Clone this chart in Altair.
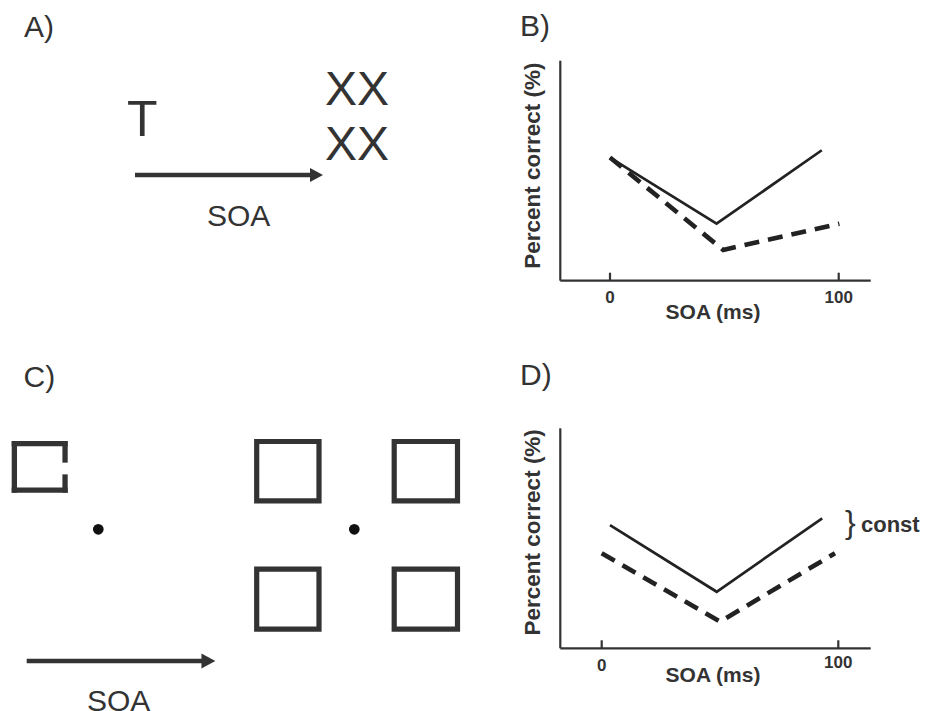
import altair as alt
import pandas as pd

# ---------------- data ----------------
soa_ticks = [0, 100]
soa_tick_labels = ["0", "100"]

B_solid_soa = [0, 46.6, 92.6]
B_solid_pc = [55.9, 25.9, 59.3]
B_dash_soa = [0, 49.5, 100.3]
B_dash_pc = [56.0, 14.0, 25.9]

D_solid_soa = [3.5, 48.6, 93.2]
D_solid_pc = [56.0, 25.7, 59.1]
D_dash_soa = [0, 50.0, 98.6]
D_dash_pc = [43.2, 12.1, 43.2]

x_title = "SOA (ms)"
y_title = "Percent correct (%)"
bracket_label = "const"

# ---------------- layout (page pixels) ----------------
W, H = 917, 712
X_DOM = [8, 8 + W]
Y_DOM = [8, 8 + H]
FONT = "Liberation Sans"
INK = "#333333"
LINE = "#222222"

panels = {
    "B": dict(x0=610.0, x100=838.7, y0=280.7, y100=60.7, left=560.3, right=870.7),
    "D": dict(x0=601.7, x100=838.3, y0=648.3, y100=428.3, left=560.3, right=870.7),
}

def kx(p):
    return (panels[p]["x100"] - panels[p]["x0"]) / 100.0

def ky(p):
    return (panels[p]["y0"] - panels[p]["y100"]) / 100.0

# series table in data units
rows = []
for panel, series, soas, pcs in [
    ("B", "solid", B_solid_soa, B_solid_pc),
    ("B", "dash", B_dash_soa, B_dash_pc),
    ("D", "solid", D_solid_soa, D_solid_pc),
    ("D", "dash", D_dash_soa, D_dash_pc),
]:
    for i, (s, p) in enumerate(zip(soas, pcs)):
        rows.append(dict(panel=panel, series=series, soa=s, pc=p, ord=i))
series_df = pd.DataFrame(rows)

px_expr = (f"datum.panel == 'B' ? {panels['B']['x0']} + datum.soa * {kx('B')} : "
           f"{panels['D']['x0']} + datum.soa * {kx('D')}")
py_expr = (f"datum.panel == 'B' ? {panels['B']['y0']} - datum.pc * {ky('B')} : "
           f"{panels['D']['y0']} - datum.pc * {ky('D')}")

xs = alt.Scale(domain=X_DOM, nice=False, zero=False)
ys = alt.Scale(domain=Y_DOM, nice=False, zero=False, reverse=True)

def X(f):
    return alt.X(f"{f}:Q", scale=xs, axis=None)

def Y(f):
    return alt.Y(f"{f}:Q", scale=ys, axis=None)

base = alt.Chart(series_df).transform_calculate(px=px_expr, py=py_expr)
solid = base.transform_filter("datum.series == 'solid'").mark_line(
    color=LINE, strokeWidth=2.7).encode(x=X("px"), y=Y("py"), detail="panel:N", order="ord:Q")
dashed = base.transform_filter("datum.series == 'dash'").mark_line(
    color=LINE, strokeWidth=4.6, strokeDash=[15, 9]).encode(x=X("px"), y=Y("py"), detail="panel:N", order="ord:Q")

# axes (domain lines + inward ticks)
ax_rows = []
lab_rows = []
for p, g in panels.items():
    ax_rows.append(dict(x=g["left"], x2=g["left"], y=g["y100"], y2=g["y0"]))
    ax_rows.append(dict(x=g["left"], x2=g["right"], y=g["y0"], y2=g["y0"]))
    for t, lab in zip(soa_ticks, soa_tick_labels):
        tx = g["x0"] + t * kx(p)
        ax_rows.append(dict(x=tx, x2=tx, y=g["y0"] - 8, y2=g["y0"]))
        lab_rows.append(dict(text=lab, x=tx, y=g["y0"] + 22.5 - (3 if (p == "D" and t == 100) else 0), size=17))
    lab_rows.append(dict(text=x_title, x=713, y=g["y0"] + 38.6 if p == "B" else g["y0"] + 33.4, size=21))
axes_df = pd.DataFrame(ax_rows)
axes = alt.Chart(axes_df).mark_rule(color=INK, strokeWidth=2.2).encode(
    x=X("x"), x2="x2:Q", y=Y("y"), y2="y2:Q")

bold_df = pd.DataFrame(lab_rows)
bold_text = alt.Chart(bold_df).mark_text(
    font=FONT, fontWeight="bold", color=INK, align="center", baseline="alphabetic").encode(
    x=X("x"), y=Y("y"), text="text:N", size=alt.Size("size:Q", scale=None, legend=None))

ytitle_df = pd.DataFrame([
    dict(text=y_title, x=533, y=(panels["B"]["y100"] + panels["B"]["y0"]) / 2 - 5),
    dict(text=y_title, x=533, y=(panels["D"]["y100"] + panels["D"]["y0"]) / 2 - 6),
])
ytitles = alt.Chart(ytitle_df).mark_text(
    font=FONT, fontWeight="bold", color=INK, align="center", baseline="middle", angle=270, fontSize=22.5).encode(
    x=X("x"), y=Y("y"), text="text:N")

const_df = pd.DataFrame([dict(text=bracket_label, x=861, y=532)])
const_text = alt.Chart(const_df).mark_text(
    font=FONT, fontWeight="bold", color=INK, align="left", baseline="alphabetic", fontSize=22).encode(
    x=X("x"), y=Y("y"), text="text:N")

# regular text (panel letters, stimuli, SOA labels, brace)
reg_df = pd.DataFrame([
    dict(text="A)", x=24, y=37, size=30),
    dict(text="B)", x=520, y=36, size=30),
    dict(text="C)", x=23.5, y=387, size=30),
    dict(text="D)", x=520, y=384.5, size=30),
    dict(text="T", x=127, y=136, size=50),
    dict(text="XX", x=325, y=105, size=48),
    dict(text="XX", x=325, y=160, size=48),
    dict(text="SOA", x=207, y=225.7, size=30),
    dict(text="SOA", x=87, y=711, size=30),
    dict(text="}", x=845, y=533, size=32),
])
reg_text = alt.Chart(reg_df).mark_text(
    font=FONT, color=INK, align="left", baseline="alphabetic").encode(
    x=X("x"), y=Y("y"), text="text:N", size=alt.Size("size:Q", scale=None, legend=None))

# arrows
arrow_df = pd.DataFrame([
    dict(x=135, x2=311, y=175, y2=175),
    dict(x=26.7, x2=203, y=661, y2=661),
])
arrow_lines = alt.Chart(arrow_df).mark_rule(color=INK, strokeWidth=4.5).encode(
    x=X("x"), x2="x2:Q", y=Y("y"), y2="y2:Q")
head_df = pd.DataFrame([
    dict(x=316.5, y=175, size=196),
    dict(x=208.4, y=661, size=225),
])
heads = alt.Chart(head_df).mark_point(
    shape="M-0.93,-1L0.93,0L-0.93,1Z", filled=True, color=INK, opacity=1, strokeWidth=0).encode(
    x=X("x"), y=Y("y"), size=alt.Size("size:Q", scale=None, legend=None))

# squares (closed placeholders)
sq_df = pd.DataFrame([
    dict(x=256.7, x2=319.0, y=441.5, y2=500.8),
    dict(x=394.2, x2=457.5, y=441.5, y2=500.8),
    dict(x=256.7, x2=319.0, y=569.2, y2=629.2),
    dict(x=394.2, x2=457.5, y=569.2, y2=629.2),
])
squares = alt.Chart(sq_df).mark_rect(fillOpacity=0, stroke=INK, strokeWidth=5.2).encode(
    x=X("x"), x2="x2:Q", y=Y("y"), y2="y2:Q")

# open square (gap on the right side)
L, R, T, B = 14.35, 65.05, 443.65, 490.05
open_df = pd.DataFrame([
    dict(x=L, x2=R, y=T, y2=T),
    dict(x=L, x2=L, y=T, y2=B),
    dict(x=L, x2=R, y=B, y2=B),
    dict(x=R, x2=R, y=T, y2=460.0),
    dict(x=R, x2=R, y=477.0, y2=B),
])
open_sq = alt.Chart(open_df).mark_rule(color=INK, strokeWidth=5.3, strokeCap="square").encode(
    x=X("x"), x2="x2:Q", y=Y("y"), y2="y2:Q")

# fixation dots
dot_df = pd.DataFrame([dict(x=98.3, y=529.3), dict(x=354.3, y=529.3)])
dots = alt.Chart(dot_df).mark_point(shape="circle", filled=True, color="#111111", opacity=1, size=115).encode(
    x=X("x"), y=Y("y"))

chart = alt.layer(
    axes, solid, dashed, bold_text, ytitles, const_text, reg_text,
    arrow_lines, heads, squares, open_sq, dots,
).properties(
    width=W, height=H, autosize=alt.AutoSizeParams(type="none"), padding=0,
).configure_view(stroke=None)

chart.save("out.html", embed_options={"renderer": "svg", "actions": False})
